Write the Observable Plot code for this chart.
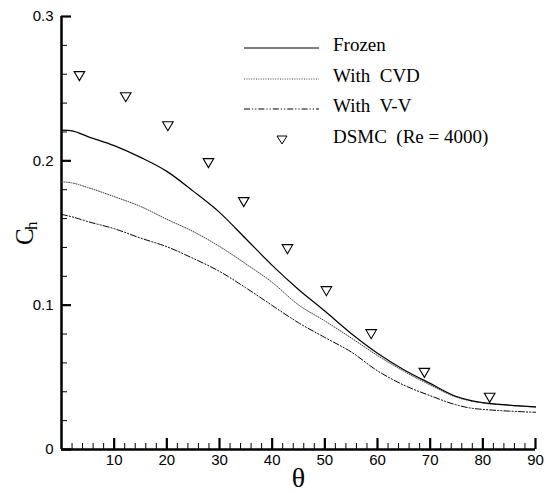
<!DOCTYPE html>
<html><head><meta charset="utf-8">
<script src="https://cdn.jsdelivr.net/npm/d3@7"></script>
<script src="https://cdn.jsdelivr.net/npm/@observablehq/plot@0.6"></script>
<style>body{margin:0;background:#fff}</style>
</head><body><div id="chart"></div>
<script>
// Data
const theta   = [0, 2, 5, 10, 15, 20, 25, 30, 35, 40, 45, 50, 55, 60, 65, 70, 75, 78, 80, 85, 90];
const frozen  = [0.2213,0.2208,0.2168,0.2105,0.2024,0.1927,0.1790,0.1643,0.1460,0.1276,0.1109,0.0959,0.0804,0.0667,0.0553,0.0458,0.0367,0.0337,0.0325,0.0308,0.0295];
const withCVD = [0.1855,0.1847,0.1815,0.1752,0.1684,0.1595,0.1510,0.1407,0.1286,0.1158,0.1002,0.0891,0.0773,0.0651,0.0542,0.0447,0.0362,0.0334,0.0322,0.0306,0.0294];
const withVV  = [0.1629,0.1612,0.1579,0.1530,0.1465,0.1405,0.1324,0.1234,0.1120,0.0998,0.0878,0.0776,0.0676,0.0545,0.0446,0.0373,0.0309,0.0285,0.0278,0.0266,0.0258];
const dsmcTheta = [3.4, 12.2, 20.2, 27.9, 34.6, 42.9, 50.3, 58.8, 68.9, 81.3];
const dsmcCh    = [0.2587,0.2441,0.2240,0.1984,0.1714,0.1388,0.1097,0.0799,0.0531,0.0358];
const seriesNames = ["Frozen", "With  CVD", "With  V-V", "DSMC  (Re = 4000)"];
const xMajor = [10, 20, 30, 40, 50, 60, 70, 80, 90];
const xMinor = d3.range(2, 90, 2).filter(v => v % 10 !== 0);
const yMajor = [0, 0.1, 0.2, 0.3];
const yMinor = [0.02,0.04,0.06,0.08,0.12,0.14,0.16,0.18,0.22,0.24,0.26,0.28];

const rows = theta.map((t, i) => ({t, f: frozen[i], c: withCVD[i], v: withVV[i]}));
const dsmc = dsmcTheta.map((t, i) => ({t, y: dsmcCh[i]}));

const triDown = {
  draw(ctx, size) {
    const r = Math.sqrt(size / Math.PI);
    const h = 0.85 * r;
    ctx.moveTo(-r, -h); ctx.lineTo(r, -h); ctx.lineTo(0, h); ctx.closePath();
  }
};

const sans = "'Liberation Sans', Arial, Helvetica, sans-serif";
const serif = "'Liberation Serif', 'Times New Roman', Times, serif";
const vvDash = "6,2,1.2,2,1.2,2";
const cvdDash = "1,1.4";

const chart = Plot.plot({
  width: 553, height: 493,
  marginLeft: 61, marginRight: 18, marginTop: 16, marginBottom: 44,
  x: {domain: [0, 90], label: null},
  y: {domain: [0, 0.3], label: null},
  style: {fontFamily: sans, background: "#fff", color: "#000"},
  marks: [
    Plot.axisX({ticks: xMinor, tickSize: -6, tickFormat: () => "", strokeWidth: 1, label: null}),
    Plot.axisX({ticks: xMajor, tickSize: -11, tickFormat: () => "", strokeWidth: 2.2, label: null}),
    Plot.axisX({ticks: xMajor, tickSize: 0, tickPadding: 5, fontSize: 15, tickFormat: d => String(d), label: null}),
    Plot.axisY({ticks: yMinor, tickSize: -6, tickFormat: () => "", strokeWidth: 1, label: null}),
    Plot.axisY({ticks: yMajor, tickSize: -10, tickFormat: () => "", strokeWidth: 2.2, label: null}),
    Plot.axisY({ticks: yMajor, tickSize: 0, tickPadding: 8, fontSize: 15, tickFormat: d => d === 0 ? "0" : d3.format(".1f")(d), label: null}),
    Plot.ruleX([0], {strokeWidth: 2.5}),
    Plot.ruleY([0], {strokeWidth: 2.5}),
    Plot.line(rows, {x: "t", y: "v", stroke: "#000", strokeWidth: 1, strokeDasharray: vvDash, curve: "monotone-x"}),
    Plot.line(rows, {x: "t", y: "c", stroke: "#444", strokeWidth: 1, strokeDasharray: cvdDash, curve: "monotone-x"}),
    Plot.line(rows, {x: "t", y: "f", stroke: "#000", strokeWidth: 1.2, curve: "monotone-x"}),
    Plot.dot(dsmc, {x: "t", y: "y", symbol: triDown, r: 5.3, stroke: "#000", fill: "none", strokeWidth: 1.1}),
    Plot.text(["θ"], {frameAnchor: "bottom", dy: 37, fontFamily: serif, fontSize: 28}),
    Plot.text(["C"], {frameAnchor: "left", dx: -37, dy: 12, rotate: -90, fontFamily: serif, fontSize: 25}),
    Plot.text(["h"], {frameAnchor: "left", dx: -29.5, dy: -3, rotate: -90, fontFamily: serif, fontSize: 17})
  ]
});
document.getElementById("chart").appendChild(chart);

// Legend
const svg = d3.select(chart.tagName.toLowerCase() === "svg" ? chart : chart.querySelector("svg"));
const lg = svg.append("g").attr("font-family", serif).attr("font-size", 19).attr("text-anchor", "start");
const rowsY = [48, 79, 109, 140];
const styles = [
  {stroke: "#000", dash: null, w: 1.2},
  {stroke: "#444", dash: cvdDash, w: 1},
  {stroke: "#000", dash: vvDash, w: 1}
];
styles.forEach((s, i) => {
  lg.append("line").attr("x1", 244).attr("x2", 319).attr("y1", rowsY[i]).attr("y2", rowsY[i])
    .attr("stroke", s.stroke).attr("stroke-width", s.w).attr("stroke-dasharray", s.dash);
});
lg.append("path").attr("d", "M277,136L287,136L282,144Z").attr("fill", "none").attr("stroke", "#000").attr("stroke-width", 1);
seriesNames.forEach((n, i) => {
  lg.append("text").attr("x", 333).attr("y", rowsY[i] + 3).attr("text-anchor", "start")
    .style("white-space", "pre").text(n);
});
</script>
</body></html>
